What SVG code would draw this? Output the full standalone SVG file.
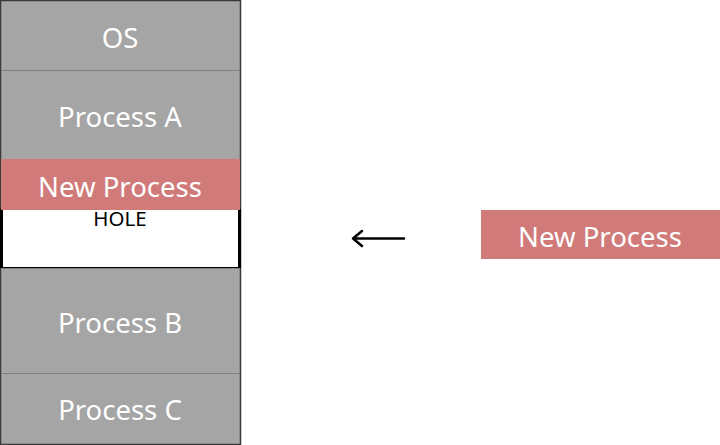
<svg xmlns="http://www.w3.org/2000/svg" width="720" height="445" viewBox="0 0 720 445">
<style>
.seg{fill:#a5a5a5}
.div{stroke:#7f7f7f;stroke-width:1}
.lbl{font-family:"Noto Sans","Open Sans",sans-serif;font-size:27.5px;fill:#ffffff;text-anchor:middle;dominant-baseline:central}
.newp{fill:#d07a79}
</style>
<rect width="720" height="445" fill="#ffffff"/>
<g id="memory">
<rect x="0.5" y="0.5" width="240" height="444" fill="#a5a5a5" stroke="#3a3a3a" stroke-width="1.5"/>
</g>
<g id="os">
<rect class="seg" x="2" y="2" width="237" height="68"/>
<text class="lbl" x="120" y="37">OS</text>
</g>
<g id="process-a">
<line class="div" x1="1" y1="70.5" x2="240" y2="70.5"/>
<text class="lbl" x="120" y="116">Process A</text>
</g>
<g id="hole">
<rect x="0" y="209" width="241" height="59" fill="#000000"/>
<rect x="3" y="209" width="235" height="58" fill="#ffffff"/>
<text x="120" y="218" font-family="Noto Sans,Open Sans,sans-serif" font-size="20.5" fill="#000000" text-anchor="middle" dominant-baseline="central">HOLE</text>
</g>
<g id="new-process-placed">
<rect class="newp" x="1" y="159" width="239" height="51"/>
<text class="lbl" x="120" y="186">New Process</text>
</g>
<g id="process-b">
<line class="div" x1="1" y1="268.5" x2="240" y2="268.5"/>
<text class="lbl" x="120" y="322">Process B</text>
</g>
<g id="process-c">
<line class="div" x1="1" y1="373.5" x2="240" y2="373.5"/>
<text class="lbl" x="120" y="409">Process C</text>
</g>
<g id="new-process">
<rect class="newp" x="481" y="210" width="239" height="49"/>
<text class="lbl" x="600" y="236">New Process</text>
</g>
<g id="connectors">
<path d="M404 238.5 H353 M362 231 L353 238.5 L362 246" fill="none" stroke="#000000" stroke-width="2.5" stroke-linecap="round" stroke-linejoin="round"/>
</g>
</svg>
